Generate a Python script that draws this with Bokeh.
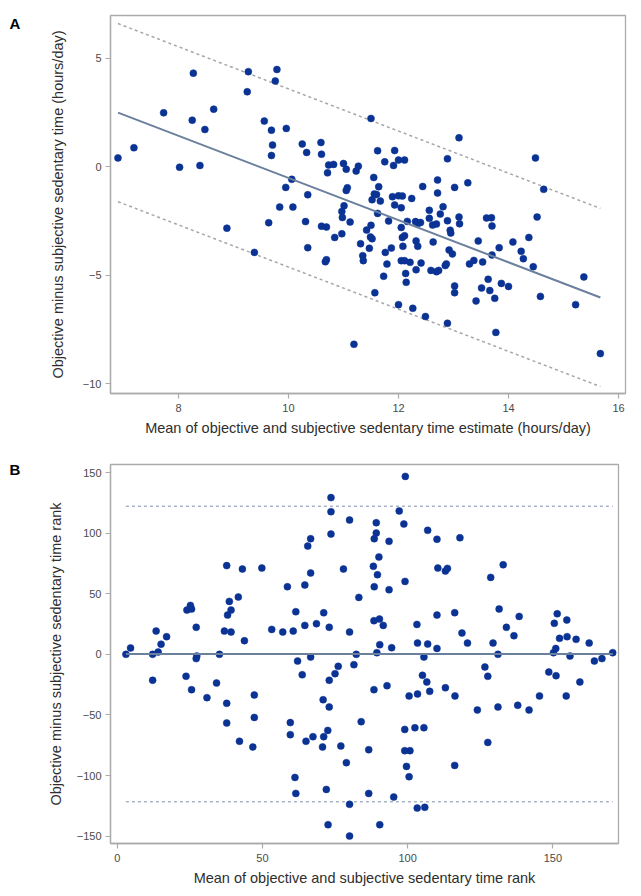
from bokeh.plotting import figure
from bokeh.layouts import column, row
from bokeh.models import FixedTicker, Range1d
from bokeh.core.properties import value
from bokeh.embed import file_html
from bokeh.resources import INLINE

# ---------------- Panel A data (hours/day) ----------------
a_mean = [6.90, 7.19, 7.73, 8.02, 8.27, 8.25, 8.39, 8.48, 8.64, 9.27, 9.25, 9.79, 9.76, 9.56, 9.69,
          9.96, 9.71, 9.69, 10.25, 10.33, 10.59, 10.60, 10.06, 9.95, 10.35, 9.84, 10.08, 8.88, 9.64,
          10.31, 10.60, 9.38, 10.35, 11.50, 13.10, 14.49, 14.64, 10.73, 10.82, 10.71, 11.00, 11.05,
          11.27, 11.23, 11.62, 11.93, 11.75, 12.00, 12.11, 11.91, 12.89, 11.55, 11.64, 11.56, 11.60,
          11.52, 11.67, 11.05, 11.07, 11.89, 12.00, 12.07, 11.93, 12.05, 12.24, 12.44, 12.71, 12.71,
          13.02, 13.26, 12.56, 12.81, 12.76, 11.01, 10.97, 10.98, 11.62, 13.10, 13.60, 13.69, 14.52,
          11.12, 10.69, 10.84, 10.97, 11.82, 12.05, 12.16, 12.07, 12.11, 12.31, 12.36, 12.40, 12.56,
          12.62, 12.69, 12.89, 13.11, 12.94, 12.95, 12.63, 12.32, 12.35, 12.08, 11.31, 11.42, 11.50,
          11.49, 11.52, 11.47, 11.35, 11.36, 10.67, 10.69, 11.76, 11.87, 11.79, 11.73, 12.05, 12.11,
          12.21, 12.41, 12.13, 12.14, 12.32, 12.59, 12.69, 12.73, 12.85, 12.87, 12.92, 12.98, 13.02,
          13.02, 13.29, 13.37, 13.45, 13.53, 13.70, 13.70, 13.83, 14.08, 14.23, 14.27, 14.37, 14.45,
          13.63, 13.87, 14.00, 13.51, 13.66, 13.75, 13.41, 14.58, 15.37, 15.22, 11.57, 12.00, 12.26,
          12.49, 12.89, 13.77, 11.19, 15.67]
a_diff = [0.41, 0.88, 2.49, -0.02, 4.32, 2.15, 0.06, 1.72, 2.66, 4.39, 3.46, 4.49, 3.96, 2.11, 1.69,
          1.77, 1.00, 0.52, 1.05, 0.66, 1.12, 0.58, -0.58, -0.95, -1.29, -1.86, -1.86, -2.83, -2.58,
          -2.53, -2.74, -3.95, -3.73, 2.23, 1.34, 0.41, -1.04, 0.08, 0.11, -0.28, 0.15, -0.11,
          0.03, -0.20, 0.74, 0.75, 0.23, 0.31, 0.31, 0.06, 0.37, -0.49, -0.92, -1.26, -1.28,
          -1.52, -1.58, -1.09, -0.97, -1.38, -1.34, -1.35, -1.76, -1.89, -1.46, -0.91, -0.61, -1.21,
          -0.95, -0.74, -2.01, -1.84, -2.18, -1.80, -2.06, -2.34, -2.15, -2.32, -2.36, -2.35, -2.32,
          -2.55, -2.78, -3.26, -3.09, -2.50, -2.80, -2.52, -3.26, -3.18, -2.53, -2.61, -2.57, -2.38,
          -2.69, -2.64, -2.49, -2.63, -2.93, -3.06, -3.47, -3.42, -3.67, -3.67, -3.55, -2.92, -2.70,
          -3.24, -3.32, -3.76, -4.10, -4.33, -4.38, -4.29, -3.95, -3.75, -4.49, -5.05, -4.33, -4.33,
          -4.41, -4.44, -4.92, -5.33, -4.75, -4.78, -4.84, -4.78, -4.56, -4.48, -3.84, -4.02, -5.50,
          -5.81, -4.48, -4.32, -3.42, -4.39, -4.07, -2.73, -3.73, -3.47, -3.90, -4.24, -3.26, -4.61,
          -5.19, -5.38, -5.52, -5.59, -5.71, -6.07, -6.19, -5.98, -5.08, -6.36, -5.81, -6.36, -6.53,
          -6.91, -7.22, -7.64, -8.19, -8.62]
a_fit_slope = -0.9726
a_fit_intercept = 9.21
a_loa = 4.11
a_xticks = [8, 10, 12, 14, 16]
a_yticks = [-10, -5, 0, 5]

# ---------------- Panel B data (ranks) ----------------
b_mean = [3.0, 4.6, 12.2, 14.1, 15.1, 13.4, 17.0, 12.2, 23.7, 25.6, 24.0, 25.2, 25.6, 27.2, 27.4,
          27.2, 30.9, 34.2, 35.2, 37.7, 38.0, 38.6, 39.2, 36.9, 39.2, 41.7, 43.1, 43.8, 37.7, 37.7,
          42.1, 46.7, 47.2, 47.2, 49.8, 53.2, 57.0, 60.6, 58.6, 61.5, 64.6, 64.6, 65.6, 66.6, 66.6,
          68.6, 59.6, 59.6, 61.2, 61.5, 62.1, 63.7, 66.6, 65.0, 67.4, 99.2, 73.6, 73.6, 73.6, 80.0,
          89.2, 89.2, 88.5, 93.6, 97.1, 98.7, 90.1, 88.2, 89.6, 88.5, 93.6, 99.1, 77.9, 83.2, 106.9,
          110.1, 118.0, 110.4, 113.0, 113.7, 128.6, 132.9, 71.1, 73.0, 80.0, 88.4, 90.3, 91.6, 103.2,
          110.1, 116.2, 118.7, 131.5, 134.0, 138.4, 136.6, 151.5, 150.5, 154.8, 152.3, 154.9, 158.0,
          162.5, 90.4, 94.5, 103.4, 106.9, 110.1, 120.6, 129.4, 151.0, 170.6, 150.2, 82.3, 89.4,
          81.5, 76.1, 75.0, 73.0, 105.6, 131.1, 126.6, 127.6, 155.9, 164.3, 166.9, 148.6, 151.1,
          159.3, 154.6, 145.4, 141.8, 137.9, 131.1, 124.0, 127.6, 113.0, 116.3, 105.1, 106.6, 107.6,
          100.5, 103.4, 92.9, 88.4, 84.0, 99.0, 102.5, 105.6, 99.0, 100.8, 99.6, 100.5, 86.6, 77.0,
          78.9, 70.9, 73.0, 72.5, 71.1, 70.7, 72.0, 86.6, 95.2, 80.0, 103.3, 105.9, 72.6, 90.4, 80.0,
          116.2]
b_diff = [0, 5.3, 0, 1.9, 8.4, 19.2, 14.6, -21.4, -18.1, -29.1, 36.5, 40.4, 37.4, 22.3, -1.4,
          -3.5, -35.7, -23.6, 0, 73.2, 32.4, 43.7, 36.5, 19.2, 18.4, 47.3, 70.4, 11.3, -40.4, -56.6,
          -71.7, -76.4, -33.5, -52.0, 71.2, 20.6, 18.4, 19.2, 55.8, 35.2, 57.2, 23.9, 89.3, 95.4, 67.1,
          25.3, -56.3, -66.2, -101.5, -114.7, -5.5, -16.8, -2.2, -71.7, -67.9, 146.8, 129.3, 117.7, 99.2, 110.8,
          108.6, 100.1, 95.4, 93.2, 118.3, 107.5, 80.3, 72.6, 65.7, 55.8, 53.3, 60.2, 70.4, 47.0, 102.3,
          94.9, 96.2, 71.2, 68.7, 70.9, 63.5, 73.9, 34.3, 22.3, 18.4, 27.8, 29.1, 23.9, 24.7,
          32.4, 34.4, 17.6, 37.4, 22.3, 31.3, 15.4, 33.5, 25.6, 28.3, 13.2, 14.6, 12.4,
          9.3, 8.0, 5.5, 9.3, 8.5, 4.9, 9.3, 9.3, 4.9, 1.4, 1.4, 0, 1.4,
          -8.5, -9.9, -15.9, -21.4, -2.2, 0, -10.4, -18.1, -1.4, -5.5, -3.5, -14.6, -17.6,
          -22.8, -34.3, -34.3, -45.9, -42.0, -43.4, -45.9, -72.6, -27.5, -34.3, -17.3, -22.8, -30.5,
          -34.3, -32.7, -25.8, -29.1, -55.5, -61.9, -60.5, -60.5, -79.4, -79.4, -92.4, -100.9, -78.6, -75.6,
          -89.3, -37.4, -43.4, -62.7, -67.9, -76.4, -111.4, -114.7, -117.7, -123.7, -126.8, -126.2, -140.5, -140.5, -149.9,
          -91.6]
b_bias = 0.3
b_loa_upper = 122.2
b_loa_lower = -121.5
b_xticks = [0, 50, 100, 150]
b_yticks = [-150, -100, -50, 0, 50, 100, 150]

panel_letters = ["A", "B"]

FONT = "Liberation Sans"
DOT = "#0b3394"
FIT = "#6b809d"
DASH_A = "#a4a6ac"
DASH_B = "#a9b3c8"
FRAME = "#ababab"
TICKTXT = "#4a4a4a"
TITLETXT = "#2e2e2e"
LETTER_W = 26


def style(p, xticks, yticks, xlab, ylab, ystand, xstand):
    p.xgrid.visible = False
    p.ygrid.visible = False
    p.outline_line_color = FRAME
    p.outline_line_width = 1.3
    for ax in (p.xaxis[0], p.yaxis[0]):
        ax.axis_line_color = FRAME
        ax.axis_line_width = 1.3
        ax.major_tick_line_color = FRAME
        ax.major_tick_line_width = 1.2
        ax.major_tick_out = 5
        ax.major_tick_in = 0
        ax.minor_tick_line_color = None
        ax.major_label_text_font = FONT
        ax.major_label_text_font_size = "11px"
        ax.major_label_text_color = TICKTXT
        ax.axis_label_text_font = FONT
        ax.axis_label_text_font_size = "14.5px"
        ax.axis_label_text_font_style = "normal"
        ax.axis_label_text_color = TITLETXT
    p.xaxis[0].ticker = FixedTicker(ticks=xticks)
    p.yaxis[0].ticker = FixedTicker(ticks=yticks)
    p.xaxis[0].axis_label = xlab
    p.yaxis[0].axis_label = ylab
    p.yaxis[0].major_label_standoff = 4
    p.xaxis[0].major_label_standoff = 5
    p.yaxis[0].axis_label_standoff = ystand
    p.xaxis[0].axis_label_standoff = xstand
    p.background_fill_color = "white"
    p.border_fill_color = "white"


def letter_fig(h, yrange, letter, drop):
    # its frame lines up vertically with the panel's frame; the letter hangs from the frame top
    f = figure(width=LETTER_W, height=h, x_range=Range1d(0, LETTER_W), y_range=yrange,
               title=None, output_backend="svg", toolbar_location=None,
               x_axis_location=None, y_axis_location=None,
               min_border_left=0, min_border_right=0, min_border_top=0, min_border_bottom=0)
    f.xgrid.visible = False
    f.ygrid.visible = False
    f.outline_line_color = None
    f.border_fill_color = "white"
    f.text(x=[9], y=[yrange.end], text=[letter], y_offset=drop, text_font=value(FONT),
           text_font_size="15px", text_font_style="bold", text_color="black",
           text_baseline="middle", text_align="left")
    return f


# ---------------- Panel A ----------------
HA = 440
ax0, ax1 = 6.764, 16.127
ay0, ay1 = -10.46, 6.98
pA = figure(width=633 - LETTER_W, height=HA, x_range=Range1d(ax0, ax1), y_range=Range1d(ay0, ay1),
            output_backend="svg", toolbar_location=None,
            min_border_left=110 - LETTER_W, min_border_right=8, min_border_top=15, min_border_bottom=47)
style(pA, a_xticks, a_yticks,
      "Mean of objective and subjective sedentary time estimate (hours/day)",
      "Objective minus subjective sedentary time (hours/day)", 14, 5)

xa_lo, xa_hi = min(a_mean), max(a_mean)
fa = [a_fit_intercept + a_fit_slope * xa_lo, a_fit_intercept + a_fit_slope * xa_hi]
pA.line([xa_lo, xa_hi], [v + a_loa for v in fa], line_color=DASH_A, line_width=1.5, line_dash="3 3")
pA.line([xa_lo, xa_hi], [v - a_loa for v in fa], line_color=DASH_A, line_width=1.5, line_dash="3 3")
pA.scatter(a_mean, a_diff, size=7, fill_color=DOT, line_color=DOT, line_width=0.5)
pA.line([xa_lo, xa_hi], fa, line_color=FIT, line_width=2)

# ---------------- Panel B ----------------
HB = 453
bx0, bx1 = -2.31, 172.6
by0, by1 = -156.0, 156.6
pB = figure(width=633 - LETTER_W, height=HB, x_range=Range1d(bx0, bx1), y_range=Range1d(by0, by1),
            output_backend="svg", toolbar_location=None,
            min_border_left=110 - LETTER_W, min_border_right=15, min_border_top=24, min_border_bottom=HB - 403)
style(pB, b_xticks, b_yticks,
      "Mean of objective and subjective sedentary time rank",
      "Objective minus subjective sedentary time rank", 10, 5)

xb_lo, xb_hi = min(b_mean), max(b_mean)
pB.line([xb_lo, xb_hi], [b_loa_upper, b_loa_upper], line_color=DASH_B, line_width=1.5, line_dash="3 3")
pB.line([xb_lo, xb_hi], [b_loa_lower, b_loa_lower], line_color=DASH_B, line_width=1.5, line_dash="3 3")
pB.scatter(b_mean, b_diff, size=7, fill_color=DOT, line_color=DOT, line_width=0.5)
pB.line([xb_lo, xb_hi], [b_bias, b_bias], line_color=FIT, line_width=2)

layout = column(row(letter_fig(HA, Range1d(ay0, ay1), panel_letters[0], 8), pA, spacing=0),
                row(letter_fig(HB, Range1d(by0, by1), panel_letters[1], 5), pB, spacing=0),
                spacing=0)
open("out.html", "w").write(file_html(layout, INLINE))
